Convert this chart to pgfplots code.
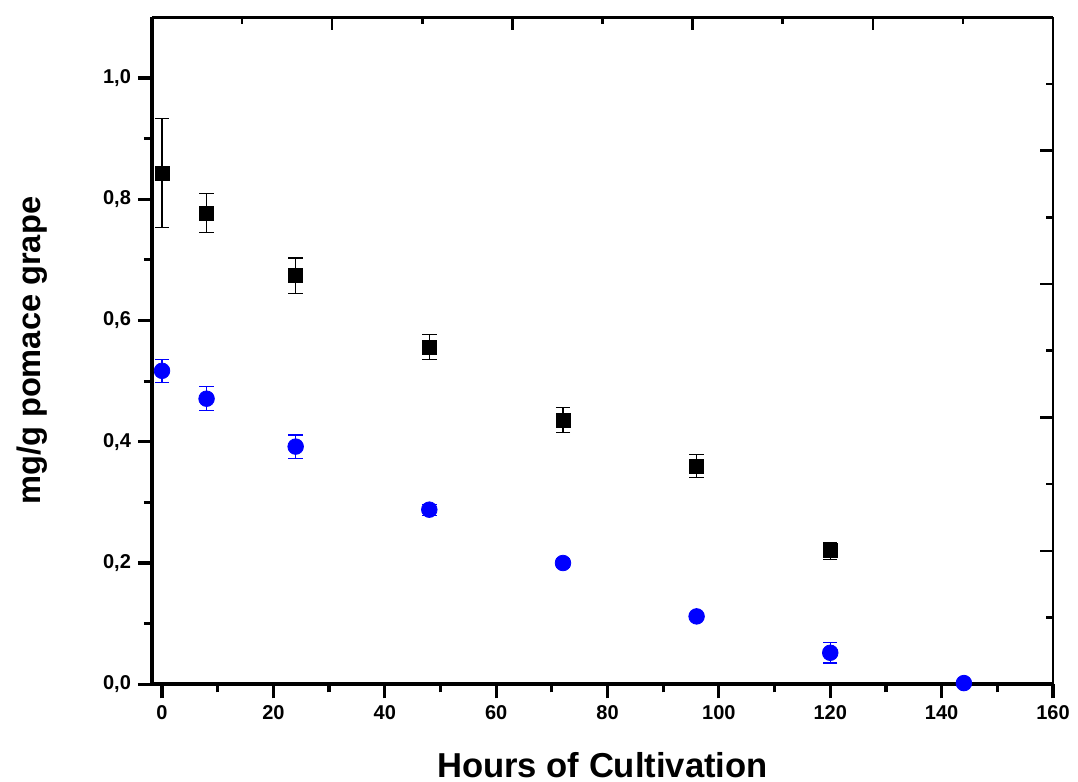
\documentclass[border=0pt]{standalone}
\usepackage{fontspec}
\setmainfont{Liberation Sans}
\usepackage{pgfplots}
\pgfplotsset{compat=1.18}

\definecolor{ptblue}{RGB}{0,0,255}

\begin{document}
\begin{tikzpicture}
% main axis: bottom and left, ticks pointing outwards, with labels
\begin{axis}[
  at={(0,0)}, anchor=south west,
  scale only axis,
  width=450.5pt, height=333.5pt,
  xmin=-1.8, xmax=160,
  ymin=0, ymax=1.1,
  axis x line*=bottom, axis y line*=left,
  axis line style={line width=1.8pt},
  tick align=outside,
  xtick={0,20,40,60,80,100,120,140,160},
  ytick={0,0.2,0.4,0.6,0.8,1.0},
  minor x tick num=1,
  minor y tick num=1,
  major tick length=7pt,
  minor tick length=4pt,
  every tick/.style={line width=1.6pt, black},
  tick label style={font=\bfseries\fontsize{10}{12}\selectfont},
  /pgf/number format/assume math mode=true,
  yticklabel style={/pgf/number format/.cd, fixed, fixed zerofill, precision=1, use comma},
  xlabel={Hours of Cultivation},
  ylabel={mg/g pomace grape},
  xlabel style={font=\bfseries\fontsize{17.3}{20}\selectfont,
    at={(axis description cs:0.5,-0.1394)}, anchor=base},
  ylabel style={font=\bfseries\fontsize{16.3}{20}\selectfont,
    at={(axis description cs:-0.1243,0.5)}, anchor=base, rotate=0},
  axis on top,
]
% black squares
\addplot[only marks, mark=square*, mark size=3.5pt, black,
  error bars/.cd, y dir=both, y explicit,
  error bar style={line width=0.6pt, black},
  error mark options={rotate=90, mark size=3.6pt, line width=0.6pt, black}]
  table[x=x, y=y, y error=e] {
x    y      e
0    0.843  0.090
8    0.777  0.032
24   0.674  0.029
48   0.556  0.021
72   0.436  0.021
96   0.360  0.019
120  0.220  0.014
};
% blue circles
\addplot[only marks, mark=*, mark size=3.9pt, ptblue, mark options={fill=ptblue, draw=ptblue},
  error bars/.cd, y dir=both, y explicit,
  error bar style={line width=0.6pt, ptblue},
  error mark options={rotate=90, mark size=3.6pt, line width=0.6pt, ptblue}]
  table[x=x, y=y, y error=e] {
x    y      e
0    0.517  0.019
8    0.471  0.020
24   0.392  0.019
48   0.288  0.009
72   0.200  0.008
96   0.112  0.005
120  0.052  0.017
144  0.002  0.000
};
\end{axis}
% frame: top and right, ticks pointing inwards, no labels
\begin{axis}[
  at={(0,0)}, anchor=south west,
  scale only axis,
  width=450.5pt, height=333.5pt,
  xmin=0, xmax=1, ymin=0, ymax=1,
  axis x line*=top, axis y line*=right,
  axis line style={line width=1.3pt},
  tick align=inside,
  xtick={0.2,0.4,0.6,0.8},
  ytick={0.2,0.4,0.6,0.8},
  minor xtick={0.1,0.3,0.5,0.7,0.9},
  minor ytick={0.1,0.3,0.5,0.7,0.9},
  major tick length=6.5pt,
  minor tick length=3.5pt,
  every tick/.style={line width=1.3pt, black},
  xticklabels={}, yticklabels={},
]
\end{axis}
\pgfresetboundingbox
\path[use as bounding box] (-76pt,-48.85pt) rectangle (463pt,342.15pt);
\end{tikzpicture}
\end{document}
